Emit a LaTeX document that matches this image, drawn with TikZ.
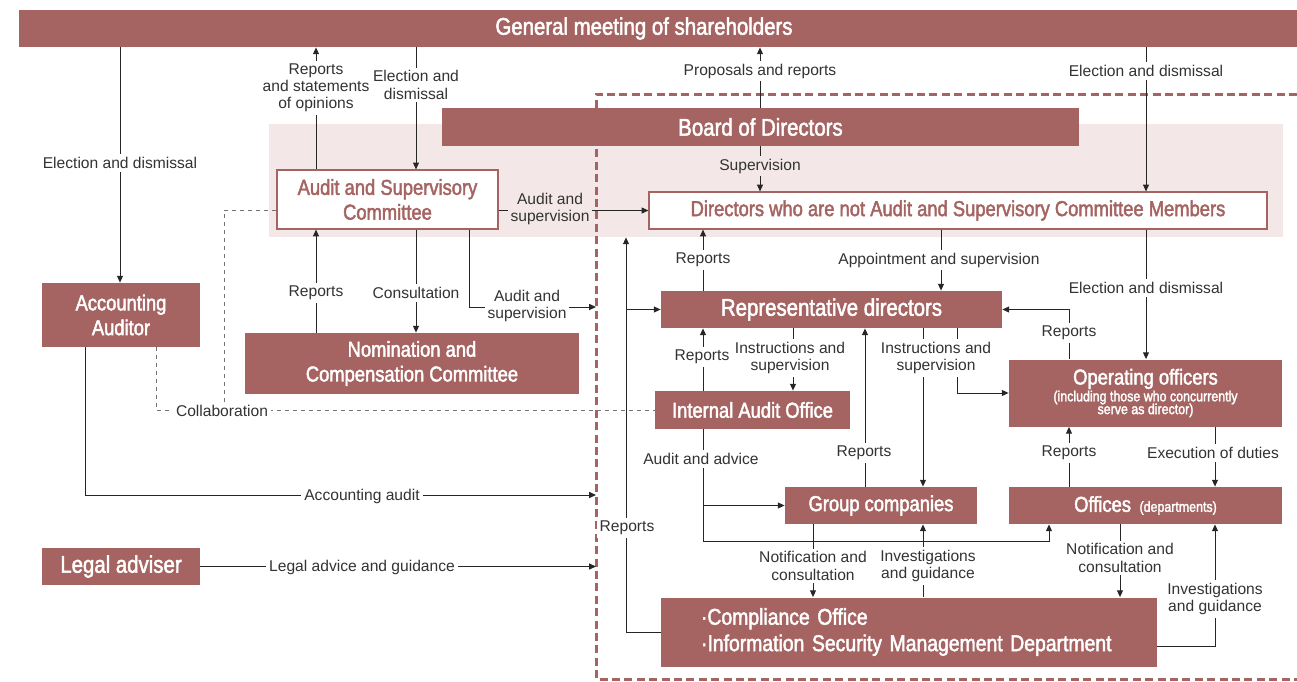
\documentclass[tikz,border=0pt]{standalone}
\usepackage{fontspec}
\setmainfont{Liberation Sans}
\newfontfamily\boxfont[FakeStretch=0.85,FakeBold=2]{Liberation Sans}
\usepackage{tikz}
\usetikzlibrary{arrows.meta, positioning, calc}

\definecolor{boxred}{RGB}{165,100,98}
\definecolor{bodpink}{RGB}{243,232,231}

\newcommand{\bigtitle}{\boxfont\fontsize{12}{13}\selectfont}
\newcommand{\midtitle}{\boxfont\fontsize{10.8}{12.4}\selectfont}
\newcommand{\subtitle}{\boxfont\fontsize{7.3}{6.8}\selectfont}
\newcommand{\lblsize}{\fontsize{7.8}{8.6}\selectfont}

\begin{document}
\begin{tikzpicture}[
  x=0.5pt, y=-0.5pt,
  box/.style={
    fill=boxred, text=white, inner sep=0pt,
    align=center, font=\midtitle
  },
  bigbox/.style={box, font=\bigtitle},
  wbox/.style={
    draw=boxred, fill=white, text=boxred, line width=0.6pt,
    inner sep=0pt, align=center, font=\midtitle
  },
  arr/.style={-{Triangle[length=3.4pt,width=3pt]}, line width=0.5pt, draw=black!85},
  dots/.style={draw=black!55, line width=0.5pt, dash pattern=on 2pt off 2pt},
  frame/.style={draw=boxred, line width=1.5pt, dash pattern=on 4pt off 2.2pt},
  lbl/.style={fill=white, text=black!80, font=\lblsize, align=center, inner sep=1.5pt},
  plbl/.style={lbl, fill=bodpink},
]
\useasboundingbox (0,0) rectangle (1297,681);

%% Board zone and executive frame
\node[fill=bodpink, inner sep=0pt, minimum width=507pt, minimum height=56.5pt]
    (bodzone) at (776,180.5) {};
\draw[frame] (1297,94) -| (596,679) -- (1297,679);

%% Top row
\node[bigbox, minimum width=639pt, minimum height=18.5pt] (gm) at (658,28.5) {General meeting of shareholders\hspace*{14pt}};
\node[bigbox, minimum width=318.5pt, minimum height=19pt] (board) at (760.5,127) {Board of Directors};

%% Supervisory side
\node[wbox, minimum width=110.5pt, minimum height=29.5pt] (asc) at (387.5,199.5) {Audit and Supervisory\\Committee};
\node[wbox, minimum width=309pt, minimum height=18.5pt] (dirs) at (958,210.5) {Directors who are not Audit and Supervisory Committee Members};
\node[box, minimum width=79pt, minimum height=32pt] (acc) at (121,315) {Accounting\\Auditor};
\node[box, minimum width=167pt, minimum height=30.5pt] (nom) at (412,363.5) {Nomination and\\Compensation Committee};
\node[bigbox, minimum width=79pt, minimum height=18.5pt] (legal) at (121,566.5) {Legal adviser};

%% Executive side
\node[bigbox, minimum width=170.5pt, minimum height=18.5pt] (rep) at (831.5,309.5) {Representative directors};
\node[box, minimum width=97.5pt, minimum height=19pt] (iao) at (752.5,410) {Internal Audit Office};
\node[box, minimum width=136.5pt, minimum height=33.5pt] (ops) at (1145.5,393)
    {Operating officers\\[-4pt]\subtitle(including those who concurrently\\[-6pt]\subtitle serve as director)};
\node[box, minimum width=96pt, minimum height=18.5pt] (grp) at (881,505.5) {Group companies};
\node[box, minimum width=136.5pt, minimum height=18.5pt] (offs) at (1145.5,505.5) {Offices {\subtitle\ (departments)}};
\node[box, font=\boxfont\fontsize{11.4}{13.2}\selectfont, align=left, text width=208pt, inner xsep=20pt,
    minimum height=34.5pt] (comp) at (909,632)
    {\mbox{·Compliance Office}\\\mbox{·Information Security Management Department}};

%% Entry points on the frame
\coordinate (ascIn) at (596,307);
\coordinate (accIn) at (596,495);
\coordinate (legalIn) at (596,566.5);
\coordinate (collabJoin) at (224,411);

%% Arrows: shareholders meeting
\draw[arr] (gm.south -| 120,0) -- (acc.north -| 120,0);
\draw[arr] (asc.north -| 316,0) -- (gm.south -| 316,0);
\draw[arr] (gm.south -| 416,0) -- (asc.north -| 416,0);
\draw[arr] (board.north -| 760,0) -- (gm.south -| 760,0);
\draw[arr] (gm.south -| 1146,0) -- (dirs.north -| 1146,0);

%% Arrows: board and committees
\draw[arr] (board.south -| 760,0) -- (dirs.north -| 760,0);
\draw[arr] (asc.east |- dirs.west) -- (dirs.west);
\draw[arr] (nom.north -| 316,0) -- (asc.south -| 316,0);
\draw[arr] (asc.south -| 416,0) -- (nom.north -| 416,0);
\draw[arr] (asc.south -| 469,0) |- (ascIn);

%% Collaboration (dotted)
\draw[dots] (asc.west |- dirs.west) -| (collabJoin);
\draw[dots] (acc.south -| 156,0) |- (iao.west);

%% Auditor and adviser
\draw[arr] (acc.south -| 85,0) |- (accIn);
\draw[arr] (legal.east) -- (legalIn);

%% Arrows: directors and representative directors
\draw[arr] (rep.north -| 703,0) -- (dirs.south -| 703,0);
\draw[arr] (dirs.south -| 941,0) -- (rep.north -| 941,0);
\draw[arr] (dirs.south -| 1146,0) -- (ops.north -| 1146,0);
\draw[arr] (ops.north -| 1069,0) |- (rep.east);
\draw[arr] (comp.west) -| (bodzone.south -| 626,0);
\draw[arr] (rep.west -| 626,0) -- (rep.west);

%% Arrows: representative directors downwards
\draw[arr] (iao.north -| 703,0) -- (rep.south -| 703,0);
\draw[arr] (rep.south -| 793,0) -- (iao.north -| 793,0);
\draw[arr] (grp.north -| 865,0) -- (rep.south -| 865,0);
\draw[arr] (rep.south -| 923,0) -- (grp.north -| 923,0);
\draw[arr] (rep.south -| 957,0) |- (ops.west);
\draw[arr] (offs.north -| 1069,0) -- (ops.south -| 1069,0);
\draw[arr] (ops.south -| 1215,0) -- (offs.north -| 1215,0);

%% Internal audit
\draw[arr] (iao.south -| 703,0) -- ++(0,112) -| (offs.south -| 1049,0);
\draw[arr] (grp.west -| 703,0) -- (grp.west);

%% Compliance
\draw[arr] (grp.south -| 813,0) -- (comp.north -| 813,0);
\draw[arr] (comp.north -| 923,0) -- (grp.south -| 923,0);
\draw[arr] (offs.south -| 1120,0) -- (comp.north -| 1120,0);
\draw[arr] (comp.east |- 0,646) -| (offs.south -| 1215,0);

%% Labels
\node[lbl] (lbElectAcc) at (120,163) {Election and dismissal};
\node[lbl] (lbRepGm) at (316,88) {Reports\\and statements\\of opinions};
\node[lbl] (lbElectAsc) at (416,85) {Election and\\dismissal};
\node[lbl] (lbProp) at (760,71) {Proposals and reports};
\node[lbl] (lbElectDirs) at (1146,71) {Election and dismissal};
\node[plbl] (lbSup) at (760,166) {Supervision};
\node[plbl] (lbAudDirs) at (550,209) {Audit and\\supervision};
\node[lbl] (lbRepAsc) at (316,293) {Reports};
\node[lbl] (lbConsult) at (416,293) {Consultation};
\node[lbl] (lbAudRep) at (527,306) {Audit and\\supervision};
\node[lbl] (lbCollab) at (222,411) {Collaboration};
\node[lbl] (lbAccAudit) at (362,496) {Accounting audit};
\node[lbl] (lbLegal) at (362,567) {Legal advice and guidance};
\node[lbl] (lbRepDirs) at (703,260) {Reports};
\node[lbl] (lbAppoint) at (939,260) {Appointment and supervision};
\node[lbl] (lbElectOps) at (1146,288) {Election and dismissal};
\node[lbl] (lbRepOps) at (1069,333) {Reports};
\node[lbl] (lbRepComp) at (627,528) {Reports};
\node[lbl] (lbRepIao) at (702,357) {Reports};
\node[lbl] (lbInstrIao) at (790,358) {Instructions and\\supervision};
\node[lbl] (lbInstrGrp) at (936,358) {Instructions and\\supervision};
\node[lbl] (lbRepGrp) at (864,453) {Reports};
\node[lbl] (lbRepOffs) at (1069,453) {Reports};
\node[lbl] (lbExec) at (1213,453) {Execution of duties};
\node[lbl] (lbAdvice) at (701,459) {Audit and advice};
\node[lbl] (lbNotGrp) at (813,566) {Notification and\\consultation};
\node[lbl] (lbInvGrp) at (928,566) {Investigations\\and guidance};
\node[lbl] (lbNotOffs) at (1120,558) {Notification and\\consultation};
\node[lbl] (lbInvOffs) at (1215,599) {Investigations\\and guidance};
\end{tikzpicture}
\end{document}
